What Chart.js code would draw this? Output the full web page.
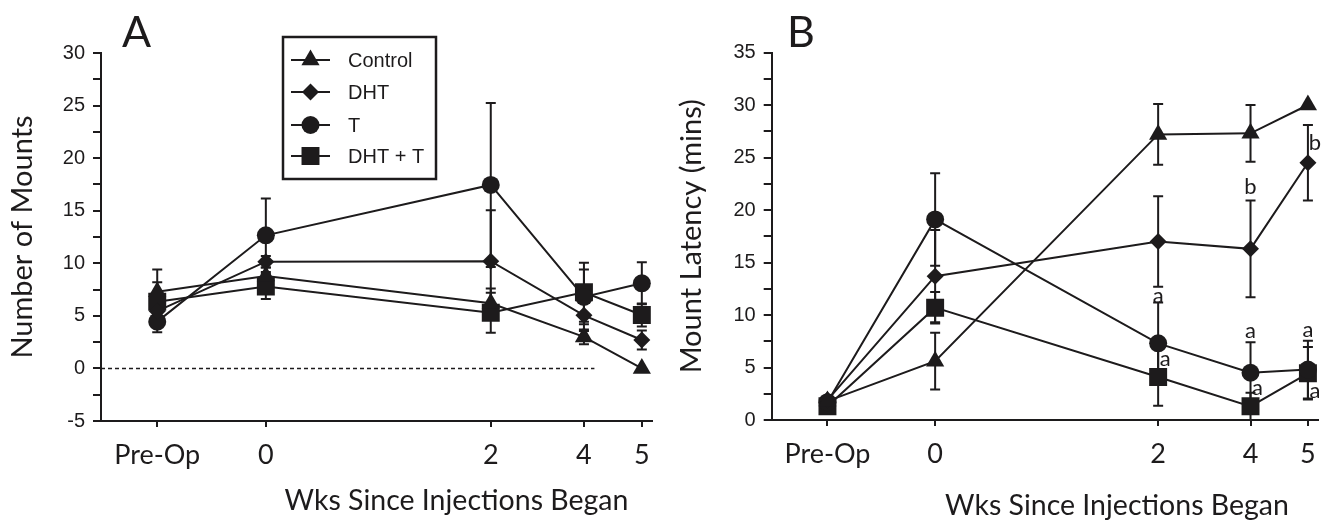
<!DOCTYPE html>
<html>
<head>
<meta charset="utf-8">
<script src="https://cdn.jsdelivr.net/npm/chart.js@4.4.1/dist/chart.umd.min.js"></script>
<style>
  html, body { margin: 0; padding: 0; background: #ffffff; }
  #wrap { position: relative; width: 1331px; height: 520px; overflow: hidden; background: #fff; }
  #wrap canvas { position: absolute; top: 0; }
  #cA { left: 0; }
  #cB { left: 665px; }
</style>
</head>
<body>
<div id="wrap">
  <canvas id="cA" width="665" height="520"></canvas>
  <canvas id="cB" width="666" height="520"></canvas>
</div>
<script>
// ---------------- data ----------------
const categories = ['Pre-Op', '0', '2', '4', '5'];
const xSlots = [1.02, 2.99, 7.07, 8.76, 9.81];     // where each category sits on the (non-uniform) week axis
const seriesNames = ['Control', 'DHT', 'T', 'DHT + T'];

// Panel A - Number of Mounts (mean, SEM)
const mountsControl = [7.3, 8.8, 6.2, 3.0, 0.0];
const mountsDHT     = [5.45, 10.15, 10.2, 5.05, 2.7];
const mountsT       = [4.45, 12.66, 17.45, 6.8, 8.1];
const mountsDHTT    = [6.35, 7.8, 5.3, 7.24, 5.08];
const mountsControlSem = [2.1, 0.8, 1.4, 0.7, 0];
const mountsDHTSem     = [1.0, 0.55, 4.85, 1.5, 0.9];
const mountsTSem       = [1.0, 3.5, 7.8, 2.6, 2.0];
const mountsDHTTSem    = [1.85, 1.2, 1.9, 2.8, 1.1];
const mountsTicks = [-5, -2.5, 0, 2.5, 5, 7.5, 10, 12.5, 15, 17.5, 20, 22.5, 25, 27.5, 30];
const mountsZeroLine = [0, 0];
const mountsZeroLineX = [0, 8.95];

// Panel B - Mount Latency (mins) (mean, SEM)
const latencyControl = [1.8, 5.6, 27.2, 27.3, 30.0];
const latencyDHT     = [1.9, 13.7, 17.0, 16.3, 24.5];
const latencyT       = [1.7, 19.1, 7.3, 4.5, 4.8];
const latencyDHTT    = [1.3, 10.7, 4.1, 1.3, 4.45];
const latencyControlSem = [0, 2.7, 2.9, 2.7, 0];
const latencyDHTSem     = [0, 4.4, 4.3, 4.6, 3.6];
const latencyTSem       = [0, 4.4, 3.9, 2.9, 2.75];
const latencyDHTTSem    = [0, 1.5, 2.75, 1.3, 2.5];
const latencyTicks = [0, 2.5, 5, 7.5, 10, 12.5, 15, 17.5, 20, 22.5, 25, 27.5, 30, 32.5, 35];

// significance letters (series index, category index, letter, placement)
const latencySig = [
  { series: 2, at: 2, text: 'a', place: 'above', dy: 1 },
  { series: 3, at: 2, text: 'a', place: 'right', dy: -10.5 },
  { series: 1, at: 3, text: 'b', place: 'above', dy: -7 },
  { series: 2, at: 3, text: 'a', place: 'above', dy: -4 },
  { series: 3, at: 3, text: 'a', place: 'right', dy: -11 },
  { series: 2, at: 4, text: 'a', place: 'above', dy: -4 },
  { series: 3, at: 4, text: 'a', place: 'right', dy: 25 },
  { series: 1, at: 4, text: 'b', place: 'right', dy: -13 }
];

// ---------------- styles ----------------
const ink = '#1d1b1c';
const humanist = 'Lato, "Open Sans", sans-serif';
const helv = '"Liberation Sans", Arial, sans-serif';
const markers = [
  { pointStyle: 'triangle', radius: 10.5 },
  { pointStyle: 'rectRot',  radius: 8.5 },
  { pointStyle: 'circle',   radius: 9 },
  { pointStyle: 'rect',     radius: 12.7 }
];

function makeSeries(valueLists, semLists) {
  return valueLists.map((vals, s) => ({
    label: seriesNames[s],
    data: vals.map((v, i) => ({ x: xSlots[i], y: v })),
    sem: semLists[s],
    borderColor: ink,
    borderWidth: 2,
    backgroundColor: ink,
    pointStyle: markers[s].pointStyle,
    pointRadius: markers[s].radius,
    pointHoverRadius: markers[s].radius,
    pointBackgroundColor: ink,
    pointBorderColor: ink,
    pointBorderWidth: 0,
    tension: 0,
    fill: false
  }));
}

// ---------------- plugins ----------------
const errorBars = {
  id: 'errorBars',
  beforeDatasetsDraw(chart) {
    const { ctx } = chart;
    const xs = chart.scales.x, ys = chart.scales.y;
    ctx.save();
    ctx.strokeStyle = ink;
    ctx.lineWidth = 2;
    chart.data.datasets.forEach(ds => {
      if (!ds.sem) return;
      ds.data.forEach((p, i) => {
        const e = ds.sem[i];
        if (!e) return;
        const px = xs.getPixelForValue(p.x);
        const yT = ys.getPixelForValue(p.y + e);
        const yB = ys.getPixelForValue(Math.max(p.y - e, ys.min));
        ctx.beginPath();
        ctx.moveTo(px, yT); ctx.lineTo(px, yB);
        ctx.moveTo(px - 5, yT); ctx.lineTo(px + 5, yT);
        ctx.moveTo(px - 5, yB); ctx.lineTo(px + 5, yB);
        ctx.stroke();
      });
    });
    ctx.restore();
  }
};

const panelText = {
  id: 'panelText',
  afterDraw(chart, args, opts) {
    const { ctx } = chart;
    ctx.save();
    ctx.fillStyle = ink;
    // panel letter
    ctx.font = '43px ' + humanist;
    ctx.textAlign = 'left';
    ctx.textBaseline = 'alphabetic';
    ctx.fillText(opts.letter, opts.letterX, opts.letterY);
    // x-axis title
    ctx.font = '28.5px ' + humanist;
    ctx.textAlign = 'center';
    ctx.fillText(opts.xTitle, opts.xTitleX, opts.xTitleY);
    // significance letters
    if (opts.sig) {
      const xs = chart.scales.x, ys = chart.scales.y;
      ctx.font = '22px ' + humanist;
      opts.sig.forEach(s => {
        const ds = chart.data.datasets[s.series];
        const p = ds.data[s.at];
        const px = xs.getPixelForValue(p.x);
        const py = ys.getPixelForValue(p.y);
        if (s.place === 'above') {
          const capY = ys.getPixelForValue(p.y + (ds.sem[s.at] || 0));
          ctx.fillText(s.text, px, capY + s.dy);
        } else {
          ctx.fillText(s.text, px + 7, py + s.dy);
        }
      });
    }
    // legend box
    if (opts.legend) {
      const L = opts.legend;
      ctx.fillStyle = '#ffffff';
      ctx.fillRect(L.left, L.top, L.width, L.height);
      ctx.strokeStyle = ink;
      ctx.lineWidth = 2.5;
      ctx.strokeRect(L.left, L.top, L.width, L.height);
      ctx.font = '20px ' + helv;
      ctx.textAlign = 'left';
      ctx.textBaseline = 'middle';
      chart.data.datasets.filter(d => d.sem).forEach((ds, k) => {
        const y = L.rowY[k];
        ctx.strokeStyle = ink;
        ctx.lineWidth = 2;
        ctx.beginPath();
        ctx.moveTo(L.lineX0, y); ctx.lineTo(L.lineX1, y);
        ctx.stroke();
        ctx.fillStyle = ink;
        Chart.helpers.drawPoint(ctx, { pointStyle: ds.pointStyle, radius: ds.pointRadius, rotation: 0, borderWidth: 0 },
          (L.lineX0 + L.lineX1) / 2, y);
        ctx.fillStyle = ink;
        ctx.fillText(ds.label, L.textX, y + 1);
      });
    }
    ctx.restore();
  }
};

function makeChart(canvasId, cfg) {
  return new Chart(document.getElementById(canvasId), {
    type: 'line',
    data: { datasets: cfg.datasets },
    plugins: [errorBars, panelText],
    options: {
      responsive: false,
      animation: false,
      devicePixelRatio: 1,
      layout: { padding: { top: cfg.padTop, right: cfg.padRight, left: 0, bottom: 0 } },
      plugins: {
        legend: { display: false },
        tooltip: { enabled: false },
        panelText: cfg.text
      },
      scales: {
        x: {
          type: 'linear', min: 0, max: 10,
          afterBuildTicks: s => { s.ticks = xSlots.map(v => ({ value: v })); },
          afterFit: s => { s.height = cfg.xScaleHeight; },
          ticks: {
            autoSkip: false, maxRotation: 0, minRotation: 0,
            color: ink, padding: 12,
            font: { family: humanist, size: 27 },
            callback: (v, i) => categories[i]
          },
          grid: { drawOnChartArea: false, drawTicks: true, tickLength: 6, color: ink, lineWidth: 2 },
          border: { display: true, color: ink, width: 2 }
        },
        y: {
          type: 'linear', min: cfg.yMin, max: cfg.yMax,
          afterBuildTicks: s => { s.ticks = cfg.yTicks.map(v => ({ value: v })); },
          afterFit: s => { s.width = cfg.yScaleWidth; },
          ticks: {
            autoSkip: false, color: ink, padding: 8,
            font: { family: helv, size: 20 },
            callback: v => (Math.abs(v % 5) < 1e-9 ? String(v) : '')
          },
          grid: { drawOnChartArea: false, drawTicks: true, tickLength: 8, color: ink, lineWidth: 2 },
          border: { display: true, color: ink, width: 2 },
          title: {
            display: true, text: cfg.yTitle, color: ink,
            font: { family: humanist, size: 29 },
            padding: { top: cfg.yTitlePad, bottom: 0 }
          }
        }
      }
    }
  });
}

// ---------------- panel A ----------------
const dsA = makeSeries([mountsControl, mountsDHT, mountsT, mountsDHTT],
                       [mountsControlSem, mountsDHTSem, mountsTSem, mountsDHTTSem]);
dsA.push({
  label: 'zero',
  data: mountsZeroLineX.map((x, i) => ({ x, y: mountsZeroLine[i] })),
  borderColor: ink, borderWidth: 1.6, borderDash: [4, 3], pointRadius: 0, fill: false
});
makeChart('cA', {
  datasets: dsA,
  yMin: -5, yMax: 30, yTicks: mountsTicks,
  yTitle: 'Number of Mounts', yTitlePad: 5,
  yScaleWidth: 101, xScaleHeight: 99, padTop: 53, padRight: 9.4,
  text: {
    letter: 'A', letterX: 122, letterY: 47,
    xTitle: 'Wks Since Injections Began', xTitleX: 456.5, xTitleY: 510,
    legend: { left: 283, top: 37, width: 153, height: 142, rowY: [60, 92, 125, 156], lineX0: 291, lineX1: 330, textX: 348 }
  }
});

// ---------------- panel B ----------------
const dsB = makeSeries([latencyControl, latencyDHT, latencyT, latencyDHTT],
                       [latencyControlSem, latencyDHTSem, latencyTSem, latencyDHTTSem]);
makeChart('cB', {
  datasets: dsB,
  yMin: 0, yMax: 35, yTicks: latencyTicks,
  yTitle: 'Mount Latency (mins)', yTitlePad: 9,
  yScaleWidth: 106.7, xScaleHeight: 100, padTop: 52.5, padRight: 8,
  text: {
    letter: 'B', letterX: 122, letterY: 47,
    xTitle: 'Wks Since Injections Began', xTitleX: 452, xTitleY: 515,
    sig: latencySig
  }
});
</script>
</body>
</html>
